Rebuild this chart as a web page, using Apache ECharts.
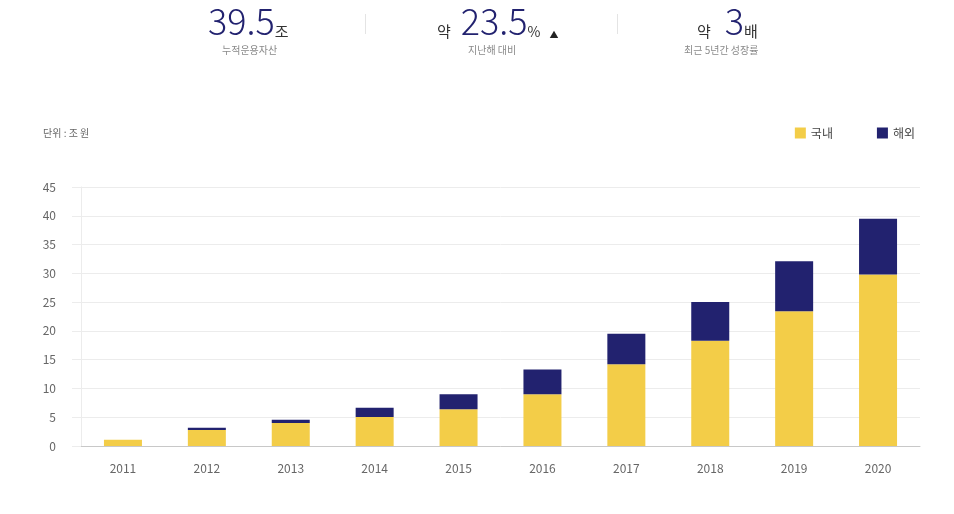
<!DOCTYPE html>
<html>
<head>
<meta charset="utf-8">
<script src="https://cdn.jsdelivr.net/npm/echarts@6/dist/echarts.min.js"></script>
<style>
	html, body { margin: 0; padding: 0; background: #fff; }
	#main { width: 954px; height: 514px; }
</style>
</head>
<body>
<div id="main"></div>
<script>
// 연도별 운용자산 (단위: 조 원)
const years = ['2011', '2012', '2013', '2014', '2015', '2016', '2017', '2018', '2019', '2020']
const domestic = [1.1, 2.8, 4.0, 5.05, 6.4, 9.0, 14.2, 18.3, 23.4, 29.8]
const overseas = [0, 0.35, 0.55, 1.6, 2.6, 4.3, 5.3, 6.7, 8.7, 9.7]
const yTicks = [0, 5, 10, 15, 20, 25, 30, 35, 40, 45]

const font = '"Noto Sans CJK KR", "Noto Sans", sans-serif'
const navy = '#22226f'
const yellow = '#f3cd48'

// 상단 요약 지표
const headText = (x, text, rich) => ({
	type: 'text',
	left: x,
	top: 3,
	style: { text, rich, fontFamily: font }
})

const big = { fontSize: 36, fontWeight: 300, fill: navy, fontFamily: font, verticalAlign: 'bottom', lineHeight: 40 }
const unit = { fontSize: 15, fill: '#333', fontFamily: font, verticalAlign: 'bottom', lineHeight: 34 }
const gap = (w) => ({ width: w, fontSize: 10, verticalAlign: 'bottom', lineHeight: 34 })
const sub = (x, text) => ({
	type: 'text',
	left: x,
	top: 45,
	style: { text, fontSize: 10, fill: '#8a8a8a', fontFamily: font }
})

const chart = echarts.init(document.getElementById('main'))

chart.setOption({
	animation: false,
	textStyle: { fontFamily: font },
	title: {
		text: '단위 : 조 원',
		left: 38,
		top: 123,
		textStyle: { fontSize: 10, color: '#666', fontWeight: 'normal', fontFamily: font }
	},
	legend: {
		right: 34,
		top: 122,
		itemWidth: 11,
		itemHeight: 11,
		itemGap: 44,
		icon: 'rect',
		textStyle: { fontSize: 12, color: '#444', fontFamily: font },
		data: ['국내', '해외']
	},
	graphic: [
		headText(208, '{n|39.5}{u|조}', { n: big, u: unit }),
		headText(437, '{u|약}{s|}{n|23.5}{p|%}{g|}{t|▲}', {
			n: big,
			u: unit,
			s: gap(10),
			g: gap(9),
			p: { fontSize: 14, fill: '#333', fontFamily: font, verticalAlign: 'bottom', lineHeight: 34 },
			t: { fontSize: 9, fill: '#222', fontFamily: font, verticalAlign: 'bottom', lineHeight: 37 }
		}),
		headText(697, '{u|약}{s|}{n|3}{u|배}', {
			n: big,
			u: unit,
			s: gap(14)
		}),
		sub(222, '누적운용자산'),
		sub(468, '지난해 대비'),
		sub(684, '최근 5년간 성장률'),
		{ type: 'rect', left: 365, top: 14, shape: { width: 1, height: 20 }, style: { fill: '#e4e4e4' } },
		{ type: 'rect', left: 617, top: 14, shape: { width: 1, height: 20 }, style: { fill: '#e4e4e4' } }
	],
	grid: {
		left: 81,
		right: 34,
		top: 187,
		bottom: 68
	},
	xAxis: {
		type: 'category',
		data: years,
		axisLine: { lineStyle: { color: '#c8c8c8', width: 1 } },
		axisTick: { show: false },
		axisLabel: { color: '#666', fontSize: 12, margin: 16 }
	},
	yAxis: {
		type: 'value',
		min: 0,
		max: yTicks[yTicks.length - 1],
		interval: 5,
		axisLine: { show: true, lineStyle: { color: '#ececec' } },
		axisTick: { show: true, length: 9, lineStyle: { color: '#ececec' } },
		axisLabel: { color: '#666', fontSize: 12, margin: 25 },
		splitLine: { lineStyle: { color: '#ececec' } }
	},
	series: [
		{
			name: '국내',
			type: 'bar',
			stack: 'total',
			barWidth: 38,
			data: domestic,
			itemStyle: { color: yellow }
		},
		{
			name: '해외',
			type: 'bar',
			stack: 'total',
			barWidth: 38,
			data: overseas,
			itemStyle: { color: navy }
		}
	]
})
</script>
</body>
</html>
